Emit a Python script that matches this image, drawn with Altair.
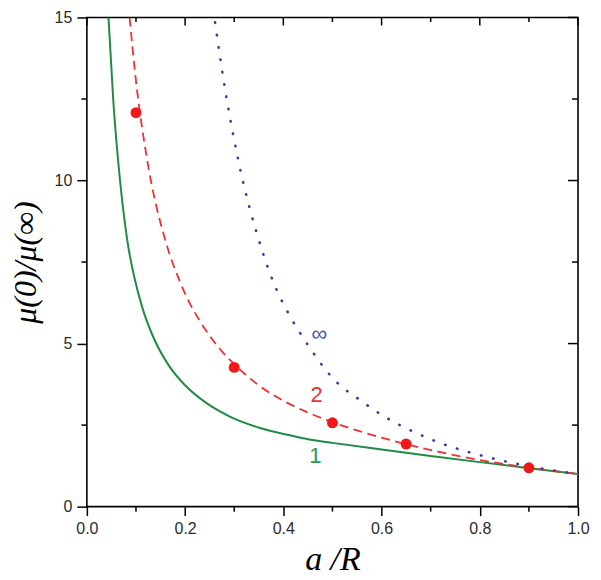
import altair as alt
import pandas as pd

# ---- data ----
green_x = [0.044, 0.054, 0.064, 0.0834, 0.097, 0.114, 0.134, 0.168, 0.202, 0.243, 0.290,
           0.351, 0.406, 0.453, 0.50, 0.60, 0.70, 0.80, 0.90, 1.00]
green_y = [15.0, 12.4, 10.55, 8.06, 7.01, 6.05, 5.24, 4.30, 3.69, 3.18, 2.77,
           2.42, 2.21, 2.06, 1.955, 1.75, 1.555, 1.365, 1.18, 1.00]

red_x = [0.087, 0.100, 0.122, 0.1615, 0.1886, 0.209, 0.229, 0.270, 0.300, 0.351, 0.406,
         0.446, 0.50, 0.55, 0.60, 0.648, 0.738, 0.813, 0.90, 1.00]
red_y = [15.0, 13.05, 10.7, 8.08, 6.93, 6.25, 5.72, 4.85, 4.37, 3.71, 3.20,
         2.915, 2.59, 2.336, 2.117, 1.926, 1.612, 1.396, 1.194, 1.00]

blue_x = [0.261, 0.2836, 0.307, 0.358, 0.378, 0.412, 0.443, 0.507, 0.555, 0.609, 0.656,
          0.711, 0.80, 0.84, 0.90, 1.00]
blue_y = [14.85, 12.59, 10.72, 7.80, 6.95, 5.88, 5.12, 3.84, 3.28, 2.73, 2.36,
          2.00, 1.58, 1.43, 1.24, 1.00]

pts_x = [0.10, 0.30, 0.50, 0.65, 0.90]
pts_y = [12.08, 4.27, 2.57, 1.92, 1.19]

lab_text = ["1", "2", "\u221e"]
lab_x = [0.465, 0.468, 0.4735]
lab_y = [1.55, 3.42, 5.30]
lab_col = ["#23985a", "#ee3333", "#4455aa"]

x_major = [0.0, 0.2, 0.4, 0.6, 0.8, 1.0]
x_minor = [0.1, 0.3, 0.5, 0.7, 0.9]
y_major = [0, 5, 10, 15]
y_minor = [2.5, 7.5, 12.5]

X_TITLE = "a /R"
Y_TITLE = "\u03bc(0)/\u03bc(\u221e)"

W, H = 492, 490
GREEN, RED, BLUE = "#1e8c45", "#f03030", "#3c3ca8"

xs = alt.Scale(domain=[0, 1], nice=False, zero=False)
ys = alt.Scale(domain=[0, 15], nice=False, zero=False)

xaxis = alt.Axis(values=x_major, format=".1f", domain=False, grid=False,
                 tickSize=9, tickWidth=1.5, tickColor="black",
                 labelFont="Liberation Sans", labelFontSize=16, labelColor="#2b2b2b",
                 labelPadding=5, labelFlush=False,
                 titleFont="Liberation Serif", titleFontStyle="italic", titleFontWeight="normal",
                 titleFontSize=34, titleColor="black", titleBaseline="alphabetic",
                 titleX=W / 2, titleY=63, titleAlign="center")
yaxis = alt.Axis(values=y_major, format="d", domain=False, grid=False,
                 tickSize=10, tickWidth=1.5, tickColor="black",
                 labelFont="Liberation Sans", labelFontSize=16, labelColor="#2b2b2b",
                 labelPadding=5,
                 titleFont="Liberation Serif", titleFontStyle="italic", titleFontWeight="normal",
                 titleFontSize=32, titleColor="black", titleBaseline="alphabetic",
                 titleAngle=270, titleX=-51, titleY=H / 2, titleAlign="center")


def X(field):
    return alt.X(field, scale=xs, axis=xaxis, title=X_TITLE)


def Y(field):
    return alt.Y(field, scale=ys, axis=yaxis, title=Y_TITLE)


df_g = pd.DataFrame({"x": green_x, "y": green_y})
df_r = pd.DataFrame({"x": red_x, "y": red_y})
df_b = pd.DataFrame({"x": blue_x, "y": blue_y})
df_p = pd.DataFrame({"x": pts_x, "y": pts_y})
df_l = pd.DataFrame({"x": lab_x, "y": lab_y, "t": lab_text, "c": lab_col})

green = alt.Chart(df_g).mark_line(color=GREEN, strokeWidth=2, interpolate="monotone", clip=True).encode(
    x=X("x:Q"), y=Y("y:Q"))
red = alt.Chart(df_r).mark_line(color=RED, strokeWidth=1.8, strokeDash=[9, 5.5],
                                interpolate="monotone", clip=True).encode(x=X("x:Q"), y=Y("y:Q"))
blue = alt.Chart(df_b).mark_line(color=BLUE, strokeWidth=2.6, strokeDash=[0.5, 12],
                                 strokeCap="round", interpolate="monotone", clip=True).encode(
    x=X("x:Q"), y=Y("y:Q"))
pts = alt.Chart(df_p).mark_circle(color="#f01818", size=120, opacity=1).encode(x=X("x:Q"), y=Y("y:Q"))
labels = alt.Chart(df_l).mark_text(font="Liberation Sans", fontSize=22, align="center",
                                   baseline="middle").encode(
    x=X("x:Q"), y=Y("y:Q"), text="t:N", color=alt.Color("c:N", scale=None))

# extra ticks: minor ticks (bottom/left, outward) and mirrored ticks (top/right, inward)
df_xmaj = pd.DataFrame({"x": x_major})
df_xmin = pd.DataFrame({"x": x_minor})
df_ymaj = pd.DataFrame({"y": y_major})
df_ymin = pd.DataFrame({"y": y_minor})
tick = dict(color="black", strokeWidth=1.5)

bot_min = alt.Chart(df_xmin).mark_rule(**tick).encode(x=X("x:Q"), y=alt.value(H), y2=alt.value(H + 5))
top_maj = alt.Chart(df_xmaj).mark_rule(**tick).encode(x=X("x:Q"), y=alt.value(0), y2=alt.value(8))
top_min = alt.Chart(df_xmin).mark_rule(**tick).encode(x=X("x:Q"), y=alt.value(0), y2=alt.value(4.5))
left_min = alt.Chart(df_ymin).mark_rule(**tick).encode(y=Y("y:Q"), x=alt.value(-5.5), x2=alt.value(0))
right_maj = alt.Chart(df_ymaj).mark_rule(**tick).encode(y=Y("y:Q"), x=alt.value(W - 10), x2=alt.value(W))
right_min = alt.Chart(df_ymin).mark_rule(**tick).encode(y=Y("y:Q"), x=alt.value(W - 6), x2=alt.value(W))

chart = alt.layer(
    green, red, blue, pts, labels,
    bot_min, top_maj, top_min, left_min, right_maj, right_min,
).properties(
    width=W, height=H,
    autosize=alt.AutoSizeParams(type="none"),
    padding={"left": 79, "top": 9, "right": 15, "bottom": 72},
    background="white",
).configure_view(stroke="black", strokeWidth=1.6)

chart.save("out.html", embed_options={"renderer": "svg", "actions": False})
